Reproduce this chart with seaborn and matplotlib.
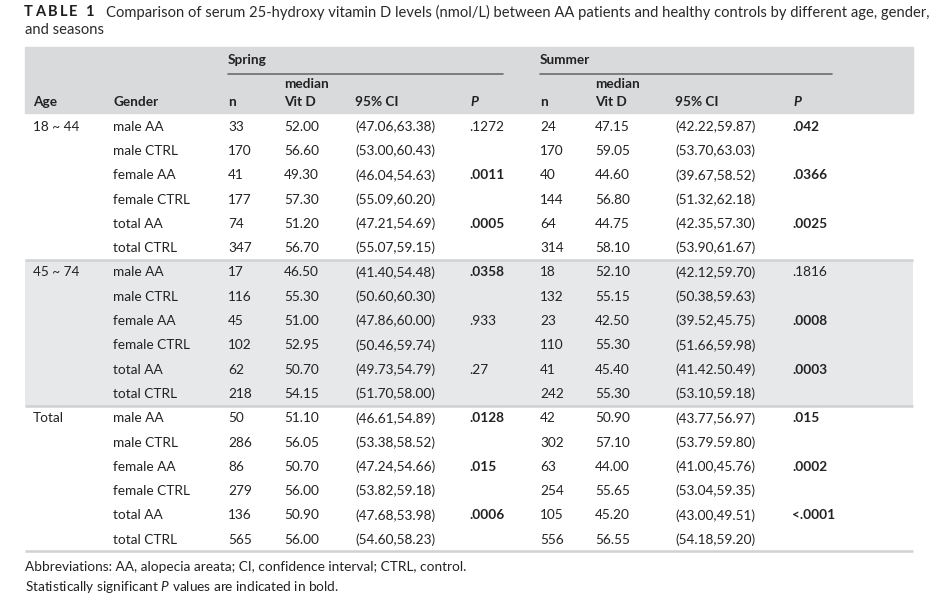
import matplotlib
matplotlib.use("Agg")
import matplotlib.pyplot as plt
import numpy as np
import pandas as pd
import seaborn as sns
from matplotlib.colors import ListedColormap
from matplotlib.patches import Rectangle

# table content
AGE_GROUPS = ["18 ~ 44", "45 ~ 74", "Total"]
GENDERS = ["male AA", "male CTRL", "female AA", "female CTRL", "total AA", "total CTRL"]

spring_n = [33, 170, 41, 177, 74, 347, 17, 116, 45, 102, 62, 218, 50, 286, 86, 279, 136, 565]
spring_median = [52.00, 56.60, 49.30, 57.30, 51.20, 56.70,
                 46.50, 55.30, 51.00, 52.95, 50.70, 54.15,
                 51.10, 56.05, 50.70, 56.00, 50.90, 56.00]
spring_ci = ["(47.06,63.38)", "(53.00,60.43)", "(46.04,54.63)", "(55.09,60.20)", "(47.21,54.69)", "(55.07,59.15)",
             "(41.40,54.48)", "(50.60,60.30)", "(47.86,60.00)", "(50.46,59.74)", "(49.73,54.79)", "(51.70,58.00)",
             "(46.61,54.89)", "(53.38,58.52)", "(47.24,54.66)", "(53.82,59.18)", "(47.68,53.98)", "(54.60,58.23)"]
spring_p = [".1272", ".0011", ".0005", ".0358", ".933", ".27", ".0128", ".015", ".0006"]
spring_p_bold = [False, True, True, True, False, False, True, True, True]

summer_n = [24, 170, 40, 144, 64, 314, 18, 132, 23, 110, 41, 242, 42, 302, 63, 254, 105, 556]
summer_median = [47.15, 59.05, 44.60, 56.80, 44.75, 58.10,
                 52.10, 55.15, 42.50, 55.30, 45.40, 55.30,
                 50.90, 57.10, 44.00, 55.65, 45.20, 56.55]
summer_ci = ["(42.22,59.87)", "(53.70,63.03)", "(39.67,58.52)", "(51.32,62.18)", "(42.35,57.30)", "(53.90,61.67)",
             "(42.12,59.70)", "(50.38,59.63)", "(39.52,45.75)", "(51.66,59.98)", "(41.42.50.49)", "(53.10,59.18)",
             "(43.77,56.97)", "(53.79.59.80)", "(41.00,45.76)", "(53.04,59.35)", "(43.00,49.51)", "(54.18,59.20)"]
summer_p = [".042", ".0366", ".0025", ".1816", ".0008", ".0003", ".015", ".0002", "<.0001"]
summer_p_bold = [True, True, True, False, True, True, True, True, True]

TITLE_LABEL = "TABLE 1"
TITLE_TEXT = ("Comparison of serum 25-hydroxy vitamin D levels (nmol/L) between AA patients "
              "and healthy controls by different age, gender,")
TITLE_TEXT2 = "and seasons"
FOOTNOTES = ["Abbreviations: AA, alopecia areata; CI, confidence interval; CTRL, control.",
             "Statistically significant $P$ values are indicated in bold."]

# layout (pixels)
W, H = 940, 600
LEFT, RIGHT = 25, 913
HEAD_TOP, HEAD_BOTTOM = 47, 113
ROW_H = 24.3
COLS = {"age": 33, "gender": 113,
        "sp_n": 228, "sp_med": 284, "sp_ci": 355, "sp_p": 469,
        "su_n": 540, "su_med": 595, "su_ci": 675, "su_p": 792}
TEXT = "#222222"
HEAD_BG = "#d9dadc"
BAND_BG = "#e7e8e9"
RULE = "#d0d1d3"
FS = 9.8
CAP_FS = 10.65

rows = []
for i in range(len(spring_n)):
    rows.append({
        "age": AGE_GROUPS[i // len(GENDERS)] if i % len(GENDERS) == 0 else "",
        "gender": GENDERS[i % len(GENDERS)],
        "sp_n": str(spring_n[i]), "sp_med": f"{spring_median[i]:.2f}", "sp_ci": spring_ci[i],
        "sp_p": spring_p[i // 2] if i % 2 == 0 else "", "sp_bold": spring_p_bold[i // 2] and i % 2 == 0,
        "su_n": str(summer_n[i]), "su_med": f"{summer_median[i]:.2f}", "su_ci": summer_ci[i],
        "su_p": summer_p[i // 2] if i % 2 == 0 else "", "su_bold": summer_p_bold[i // 2] and i % 2 == 0,
        "block": i // len(GENDERS),
    })
table = pd.DataFrame(rows)

sns.set_theme(style="white")
plt.rcParams["font.family"] = ["Lato", "DejaVu Sans"]
plt.rcParams["mathtext.fontset"] = "custom"
plt.rcParams["mathtext.rm"] = "Lato"
plt.rcParams["mathtext.it"] = "Lato:italic"
plt.rcParams["mathtext.bf"] = "Lato:bold"

fig = plt.figure(figsize=(W / 100, H / 100), dpi=100)
body_top = HEAD_BOTTOM + 1
body_bottom = body_top + ROW_H * len(table)

# shaded middle block drawn as a one-column heatmap
shade = (table["block"] % 2).to_numpy().reshape(-1, 1)
body_ax = fig.add_axes([LEFT / W, 1 - body_bottom / H, (RIGHT - LEFT) / W, (body_bottom - body_top) / H])
sns.heatmap(shade, cmap=ListedColormap(["white", BAND_BG]), vmin=0, vmax=1, cbar=False,
            xticklabels=False, yticklabels=False, ax=body_ax)
body_ax.axis("off")

ax = fig.add_axes([0, 0, 1, 1])
ax.set_xlim(0, W)
ax.set_ylim(H, 0)
ax.axis("off")
ax.patch.set_alpha(0)

# caption: letter-spaced label, then the description
fig.canvas.draw()
renderer = fig.canvas.get_renderer()
x = 24
for ch in TITLE_LABEL:
    if ch == " ":
        x += 3.0 + 2.3
        continue
    t = ax.text(x, 12, ch, fontsize=10.5, fontweight="bold", color="#1e1e1e", va="center", ha="left")
    x += t.get_window_extent(renderer).width + 2.3
ax.text(106, 12, TITLE_TEXT, fontsize=CAP_FS, color="#2a2a2a", va="center", ha="left")
ax.text(LEFT, 30, TITLE_TEXT2, fontsize=CAP_FS, color="#2a2a2a", va="center", ha="left")

# header band and rules
ax.add_patch(Rectangle((LEFT, HEAD_TOP), RIGHT - LEFT, HEAD_BOTTOM - HEAD_TOP, color=HEAD_BG, zorder=0))
ax.plot([COLS["sp_n"], 503], [74, 74], color="#6b6c6e", lw=1.2)
ax.plot([COLS["su_n"], 832], [74, 74], color="#6b6c6e", lw=1.2)
for b in range(1, 4):
    y = body_top + ROW_H * 6 * b
    ax.plot([LEFT, RIGHT], [y, y], color=RULE, lw=1.8, solid_capstyle="butt")

head = dict(fontsize=FS, fontweight="bold", color=TEXT, va="center", ha="left")
ax.text(COLS["sp_n"], 60, "Spring", **head)
ax.text(COLS["su_n"], 60, "Summer", **head)
ax.text(COLS["sp_med"], 84, "median", **head)
ax.text(COLS["su_med"], 84, "median", **head)
for key, label in [("age", "Age"), ("gender", "Gender"), ("sp_n", "n"), ("sp_med", "Vit D"),
                   ("sp_ci", "95% CI"), ("su_n", "n"), ("su_med", "Vit D"), ("su_ci", "95% CI")]:
    ax.text(COLS[key], 102, label, **head)
for key in ["sp_p", "su_p"]:
    ax.text(COLS[key] + 1, 102, "P", fontstyle="italic", **head)

# body
for i, row in table.iterrows():
    y = body_top + ROW_H * (i + 0.5) + 0.5
    for key in ["age", "gender", "sp_n", "sp_med", "sp_ci", "su_n", "su_med", "su_ci"]:
        ax.text(COLS[key], y, row[key], fontsize=FS, color=TEXT, va="center", ha="left")
    ax.text(COLS["sp_p"], y, row["sp_p"], fontsize=FS, color=TEXT, va="center", ha="left",
            fontweight="bold" if row["sp_bold"] else "normal")
    ax.text(COLS["su_p"], y, row["su_p"], fontsize=FS, color=TEXT, va="center", ha="left",
            fontweight="bold" if row["su_bold"] else "normal")

for j, note in enumerate(FOOTNOTES):
    ax.text(LEFT, 567 + 20 * j, note, fontsize=FS, color=TEXT, va="center", ha="left")

fig.savefig("out.png", dpi=100)
